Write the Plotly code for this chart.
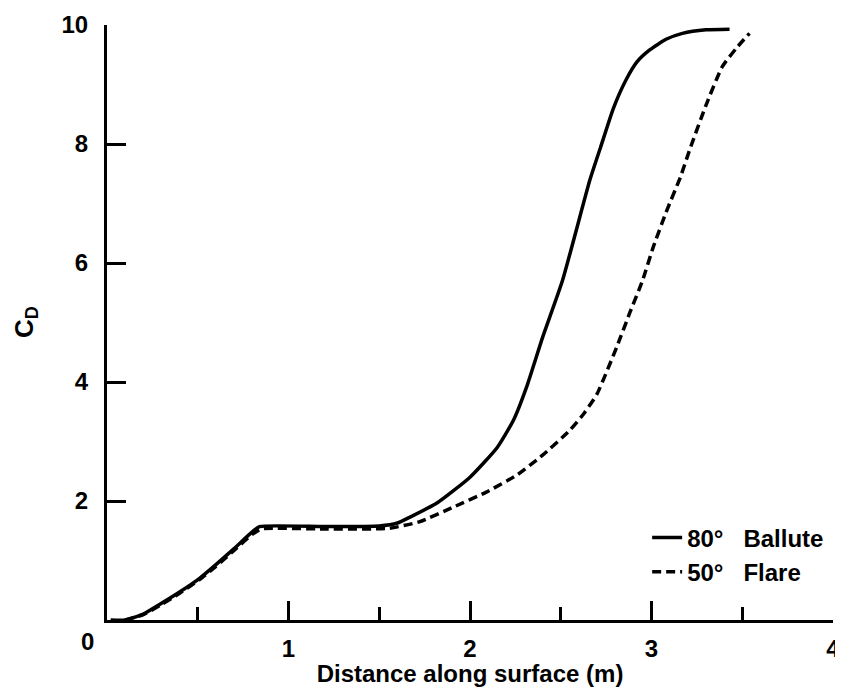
import plotly.graph_objects as go

# 80 deg ballute (solid)
ballute_x = [0.02, 0.1, 0.2, 0.3, 0.4, 0.51, 0.6, 0.7, 0.8, 0.84, 1.2, 1.5, 1.6,
             1.67, 1.82, 2.0, 2.15, 2.24, 2.31, 2.4, 2.51, 2.66, 2.72, 2.79, 2.86,
             2.92, 2.99, 3.08, 3.17, 3.3, 3.43]
ballute_y = [0.0, 0.0, 0.1, 0.28, 0.47, 0.7, 0.93, 1.2, 1.48, 1.57, 1.57, 1.58, 1.63,
             1.73, 1.97, 2.4, 2.9, 3.36, 3.9, 4.75, 5.71, 7.39, 7.95, 8.6, 9.08,
             9.38, 9.58, 9.76, 9.86, 9.92, 9.93]

# 50 deg flare (dashed)
flare_x = [0.1, 0.2, 0.3, 0.4, 0.51, 0.6, 0.7, 0.8, 0.85, 1.2, 1.55, 1.72, 1.91,
           2.09, 2.26, 2.4, 2.55, 2.63, 2.7, 2.81, 2.88, 2.95, 3.01, 3.08, 3.16,
           3.21, 3.3, 3.39, 3.47, 3.54]
flare_y = [0.0, 0.09, 0.26, 0.45, 0.68, 0.9, 1.17, 1.44, 1.53, 1.53, 1.54, 1.65, 1.9,
           2.15, 2.44, 2.77, 3.19, 3.48, 3.8, 4.6, 5.16, 5.7, 6.27, 6.85, 7.45,
           7.9, 8.65, 9.3, 9.62, 9.86]

x_ticks = [1, 2, 3, 4]
y_ticks = [2, 4, 6, 8, 10]

fam = "Liberation Sans, Arial, sans-serif"

fig = go.Figure()
fig.add_trace(go.Scatter(x=ballute_x, y=ballute_y, mode="lines", name="80°\u00a0\u00a0 Ballute",
                         line=dict(color="black", width=3.5, shape="spline", smoothing=0.5),
                         cliponaxis=False))
fig.add_trace(go.Scatter(x=flare_x, y=flare_y, mode="lines", name="50°\u00a0\u00a0 Flare",
                         line=dict(color="black", width=3.5, dash="9px,5px", shape="spline", smoothing=0.5),
                         cliponaxis=False))

# page body has an 8px margin, so the figure is made smaller to fit the window
fig.update_layout(
    width=835, height=679,
    margin=dict(l=99, r=10, t=17, b=67),
    plot_bgcolor="white", paper_bgcolor="white",
    font=dict(family=fam, color="black", size=24, weight="bold"),
    legend=dict(x=0.744, y=0.043, xanchor="left", yanchor="bottom",
                bgcolor="rgba(0,0,0,0)", font=dict(size=24, weight="bold"),
                tracegroupgap=0),
    xaxis=dict(range=[0, 4], tickvals=x_ticks, ticks="inside", ticklen=19, tickwidth=2.5,
               tickcolor="black", showline=True, linecolor="black", linewidth=3,
               showgrid=False, zeroline=False, automargin=False,
               minor=dict(dtick=0.5, ticks="inside", ticklen=13, tickwidth=2.5, tickcolor="black"),
               tickfont=dict(size=24, weight="bold"), ticklabelstandoff=5,
               title=dict(text="Distance along surface (m)", font=dict(size=24, weight="bold"), standoff=6)),
    yaxis=dict(range=[0, 10], tickvals=y_ticks, ticks="inside", ticklen=19, tickwidth=2.5,
               tickcolor="black", showline=True, linecolor="black", linewidth=3,
               showgrid=False, zeroline=False, automargin=False,
               tickfont=dict(size=24, weight="bold"), ticklabelstandoff=11),
)
fig.add_annotation(x=0, y=0, xref="x", yref="y", text="0", showarrow=False,
                   xanchor="right", yanchor="top", xshift=-11, yshift=-6,
                   font=dict(size=24, weight="bold"))
# y title as rotated annotation so it can sit further left
fig.add_annotation(x=0, y=0.5, xref="paper", yref="paper", text="C<sub>D</sub>",
                   showarrow=False, textangle=-90, xanchor="right", yanchor="middle",
                   xshift=-63, font=dict(size=26, weight="bold"))

fig.write_html("out.html")
